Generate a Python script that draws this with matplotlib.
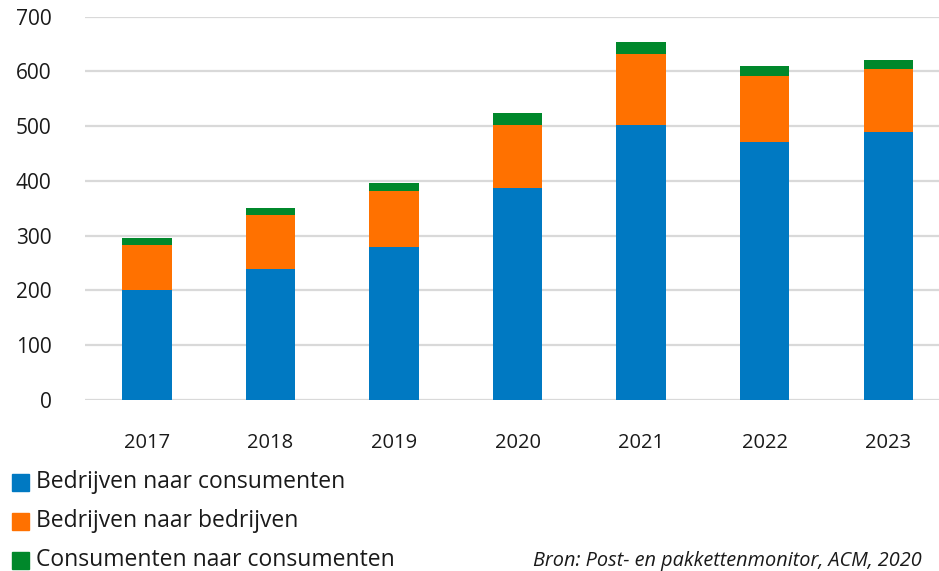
import numpy as np
import matplotlib
matplotlib.use('Agg')
import matplotlib.pyplot as plt
from matplotlib.patches import Rectangle

years = ['2017', '2018', '2019', '2020', '2021', '2022', '2023']
b2c = [200, 240, 280, 387, 502, 471, 489]
b2b = [83, 98, 102, 115, 130, 121, 115]
c2c = [12, 12, 15, 22, 22, 18, 17]
series = ['Bedrijven naar consumenten', 'Bedrijven naar bedrijven', 'Consumenten naar consumenten']
colors = ['#0079c2', '#ff7100', '#00882b']
source = 'Bron: Post- en pakkettenmonitor, ACM, 2020'

plt.rcParams['font.family'] = ['Open Sans', 'DejaVu Sans']

fig = plt.figure(figsize=(9.39, 5.71), dpi=100)
ax = fig.add_axes([85 / 939, 1 - 400 / 571, 854 / 939, (400 - 16.7) / 571])

x = np.arange(len(years))
bottom = np.zeros(len(years))
for vals, c in zip([b2c, b2b, c2c], colors):
    ax.bar(x, vals, width=0.4, bottom=bottom, color=c, zorder=3)
    bottom += np.array(vals)

ax.set_ylim(0, 700)
ax.set_xlim(-0.5, 6.41)
ax.set_yticks(range(0, 701, 100))
ax.yaxis.grid(True, color='#d9d9d9', lw=1.6, zorder=0)
ax.set_axisbelow(True)
for s in ax.spines.values():
    s.set_visible(False)
ax.tick_params(length=0, colors='#1a1a1a')
ax.tick_params(axis='y', pad=24, labelsize=15)
ax.tick_params(axis='x', pad=24, labelsize=14.5)
ax.set_xticks(x)
ax.set_xticklabels(years)

# legend rows under the axis
for i, (lab, c) in enumerate(zip(series, colors)):
    yy = 1 - (482 + i * 39) / 571
    fig.patches.append(Rectangle((12 / 939, yy - 8.5 / 571), 17 / 939, 17 / 571,
                                 transform=fig.transFigure, color=c))
    fig.text(36 / 939, yy, lab, fontsize=16.5, va='center', ha='left', color='#1a1a1a')

fig.text(922 / 939, 1 - 561 / 571, source, fontsize=14.3, style='italic',
         ha='right', va='center', color='#1a1a1a')

fig.savefig('out.png', dpi=100, facecolor='white')
